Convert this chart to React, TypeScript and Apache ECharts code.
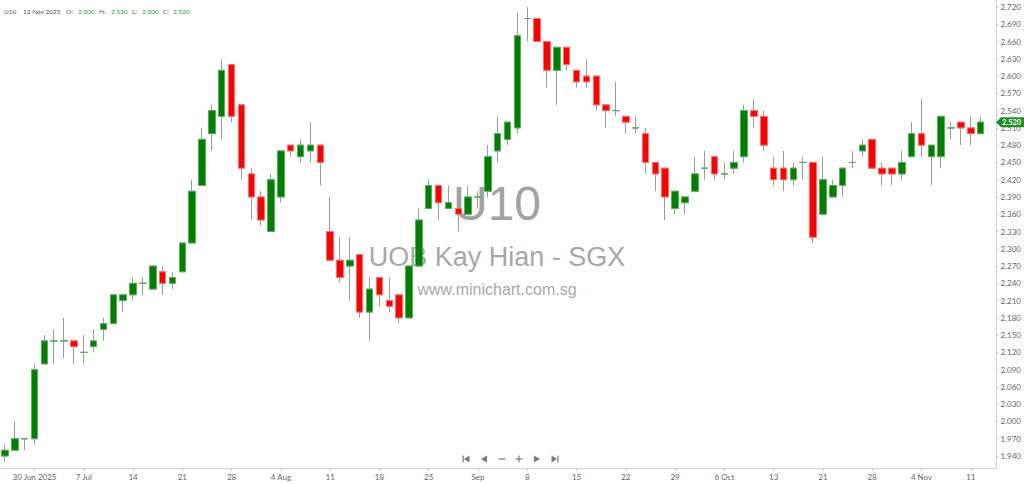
import { useEffect, useRef } from "react";
import * as echarts from "echarts";

// Watermark / header texts
const symbol = "U10";
const companyLabel = "UOB Kay Hian - SGX";
const siteLabel = "www.minichart.com.sg";
const headerDate = "12 Nov 2025";

// Trading days (SGX), 25 Jun 2025 - 12 Nov 2025
const dates = [
  "2025-06-25", "2025-06-26", "2025-06-27", "2025-06-30",
  "2025-07-01", "2025-07-02", "2025-07-03", "2025-07-04",
  "2025-07-07", "2025-07-08", "2025-07-09", "2025-07-10", "2025-07-11",
  "2025-07-14", "2025-07-15", "2025-07-16", "2025-07-17", "2025-07-18",
  "2025-07-21", "2025-07-22", "2025-07-23", "2025-07-24", "2025-07-25",
  "2025-07-28", "2025-07-29", "2025-07-30", "2025-07-31", "2025-08-01",
  "2025-08-04", "2025-08-05", "2025-08-06", "2025-08-07", "2025-08-08",
  "2025-08-11", "2025-08-12", "2025-08-13", "2025-08-14", "2025-08-15",
  "2025-08-18", "2025-08-19", "2025-08-20", "2025-08-21", "2025-08-22",
  "2025-08-25", "2025-08-26", "2025-08-27", "2025-08-28", "2025-08-29",
  "2025-09-01", "2025-09-02", "2025-09-03", "2025-09-04", "2025-09-05",
  "2025-09-08", "2025-09-09", "2025-09-10", "2025-09-11", "2025-09-12",
  "2025-09-15", "2025-09-16", "2025-09-17", "2025-09-18", "2025-09-19",
  "2025-09-22", "2025-09-23", "2025-09-24", "2025-09-25", "2025-09-26",
  "2025-09-29", "2025-09-30", "2025-10-01", "2025-10-02", "2025-10-03",
  "2025-10-06", "2025-10-07", "2025-10-08", "2025-10-09", "2025-10-10",
  "2025-10-13", "2025-10-14", "2025-10-15", "2025-10-16", "2025-10-17",
  "2025-10-21", "2025-10-22", "2025-10-23", "2025-10-24",
  "2025-10-27", "2025-10-28", "2025-10-29", "2025-10-30", "2025-10-31",
  "2025-11-03", "2025-11-04", "2025-11-05", "2025-11-06", "2025-11-07",
  "2025-11-10", "2025-11-11", "2025-11-12",
];

const opens = [
  1.94, 1.95, 1.97, 1.97, 2.10, 2.14, 2.14, 2.14, 2.12, 2.13,
  2.16, 2.17, 2.21, 2.22, 2.24, 2.23, 2.26, 2.24, 2.26, 2.31,
  2.41, 2.50, 2.53, 2.62, 2.55, 2.43, 2.39, 2.33, 2.39, 2.48,
  2.46, 2.47, 2.48, 2.33, 2.28, 2.27, 2.29, 2.19, 2.25, 2.21,
  2.22, 2.18, 2.27, 2.37, 2.41, 2.37, 2.37, 2.36, 2.39, 2.40,
  2.47, 2.49, 2.51, 2.70, 2.70, 2.66, 2.61, 2.65, 2.61, 2.60,
  2.60, 2.55, 2.54, 2.53, 2.51, 2.50, 2.45, 2.44, 2.37, 2.38,
  2.40, 2.44, 2.46, 2.43, 2.44, 2.46, 2.54, 2.53, 2.44, 2.44,
  2.42, 2.45, 2.45, 2.36, 2.39, 2.41, 2.45, 2.47, 2.49, 2.44,
  2.44, 2.43, 2.46, 2.50, 2.46, 2.46, 2.51, 2.52, 2.51, 2.50,
];

const closes = [
  1.95, 1.97, 1.97, 2.09, 2.14, 2.14, 2.14, 2.13, 2.12, 2.14,
  2.17, 2.22, 2.22, 2.24, 2.24, 2.27, 2.24, 2.25, 2.31, 2.40,
  2.49, 2.54, 2.61, 2.53, 2.44, 2.39, 2.35, 2.42, 2.47, 2.47,
  2.48, 2.48, 2.45, 2.28, 2.25, 2.28, 2.19, 2.23, 2.22, 2.20,
  2.18, 2.27, 2.35, 2.41, 2.38, 2.38, 2.36, 2.39, 2.39, 2.46,
  2.50, 2.52, 2.67, 2.70, 2.66, 2.61, 2.65, 2.62, 2.59, 2.59,
  2.55, 2.54, 2.54, 2.52, 2.51, 2.45, 2.43, 2.39, 2.40, 2.39,
  2.43, 2.44, 2.43, 2.43, 2.45, 2.54, 2.53, 2.48, 2.42, 2.42,
  2.44, 2.45, 2.32, 2.42, 2.41, 2.44, 2.45, 2.48, 2.44, 2.43,
  2.43, 2.45, 2.50, 2.48, 2.48, 2.53, 2.51, 2.51, 2.50, 2.52,
];

const lows = [
  1.93, 1.95, 1.95, 1.96, 2.10, 2.10, 2.11, 2.10, 2.10, 2.12,
  2.14, 2.17, 2.19, 2.21, 2.22, 2.23, 2.22, 2.23, 2.26, 2.31,
  2.41, 2.47, 2.49, 2.52, 2.42, 2.35, 2.34, 2.33, 2.38, 2.46,
  2.45, 2.45, 2.41, 2.28, 2.24, 2.21, 2.18, 2.14, 2.20, 2.19,
  2.17, 2.18, 2.27, 2.37, 2.35, 2.37, 2.33, 2.36, 2.37, 2.39,
  2.45, 2.48, 2.50, 2.66, 2.66, 2.58, 2.55, 2.61, 2.58, 2.58,
  2.54, 2.51, 2.53, 2.50, 2.50, 2.43, 2.40, 2.35, 2.36, 2.36,
  2.40, 2.42, 2.42, 2.42, 2.43, 2.45, 2.51, 2.47, 2.41, 2.40,
  2.41, 2.42, 2.31, 2.36, 2.39, 2.39, 2.44, 2.46, 2.44, 2.41,
  2.41, 2.42, 2.46, 2.46, 2.41, 2.44, 2.49, 2.48, 2.48, 2.50,
];

const highs = [
  1.96, 2.00, 1.97, 2.10, 2.15, 2.16, 2.18, 2.14, 2.15, 2.16,
  2.18, 2.22, 2.22, 2.25, 2.25, 2.27, 2.27, 2.26, 2.31, 2.42,
  2.51, 2.55, 2.63, 2.62, 2.55, 2.44, 2.40, 2.43, 2.47, 2.48,
  2.49, 2.52, 2.48, 2.39, 2.32, 2.32, 2.29, 2.25, 2.25, 2.25,
  2.22, 2.27, 2.37, 2.42, 2.41, 2.41, 2.39, 2.41, 2.40, 2.48,
  2.53, 2.52, 2.71, 2.72, 2.70, 2.66, 2.65, 2.65, 2.61, 2.63,
  2.60, 2.55, 2.59, 2.53, 2.53, 2.51, 2.45, 2.44, 2.40, 2.39,
  2.46, 2.47, 2.46, 2.45, 2.47, 2.55, 2.56, 2.54, 2.46, 2.47,
  2.45, 2.46, 2.45, 2.46, 2.42, 2.44, 2.47, 2.49, 2.49, 2.45,
  2.44, 2.47, 2.52, 2.56, 2.48, 2.53, 2.52, 2.52, 2.53, 2.53,
];

// x-axis tick labels (one per trading week)
const tickDates = [
  "2025-06-30", "2025-07-07", "2025-07-14", "2025-07-21", "2025-07-28",
  "2025-08-04", "2025-08-11", "2025-08-18", "2025-08-25", "2025-09-01",
  "2025-09-08", "2025-09-15", "2025-09-22", "2025-09-29", "2025-10-06",
  "2025-10-13", "2025-10-21", "2025-10-28", "2025-11-04", "2025-11-11",
];
const tickLabels = [
  "30 Jun 2025", "7 Jul", "14", "21", "28",
  "4 Aug", "11", "18", "25", "Sep",
  "8", "15", "22", "29", "6 Oct",
  "13", "21", "28", "4 Nov", "11",
];

// y-axis range and step
const yMin = 1.94;
const yMax = 2.72;
const yStep = 0.03;

const UP = "#008000";
const DOWN = "#ff0000";
const WICK = "#9c9c9c";
const AXIS = "#d0d0d0";
const LABEL = "#666666";
const VALUE = "#2a9a2a";

function txt(id: string, text: string, x: number, y: number, fill: string, size: number, family = "Lato", align = "left", z = 10, weight = "normal") {
  return {
    id,
    type: "text",
    x,
    y,
    z,
    silent: true,
    style: {
      text,
      fill,
      fontSize: size,
      fontFamily: family,
      fontWeight: weight,
      align,
      verticalAlign: "middle",
      textAlign: align,
      textVerticalAlign: "middle",
    },
  };
}

export default function App() {
  const chartRef = useRef<HTMLDivElement>(null);

  useEffect(() => {
    if (!chartRef.current) return;
    const chart = echarts.init(chartRef.current, null, { renderer: "svg" });

    const candles = dates.map((_, i) => [opens[i], closes[i], lows[i], highs[i]]);
    // bodies only (no wicks), drawn on top so the wicks stay grey
    const bodies = dates.map((_, i) => [
      opens[i],
      closes[i],
      Math.min(opens[i], closes[i]),
      Math.max(opens[i], closes[i]),
    ]);

    const last = dates.length - 1;
    const fmt = (v: number) => v.toFixed(3);

    const navColor = "#7a7a7a";
    const ny = 459;
    const hs = 6.5;

    const graphics: any[] = [
      // watermark
      txt("wm1", symbol, 497, 203, "#a2a2a2", 48, "Liberation Sans", "center", 0),
      txt("wm2", companyLabel, 497, 257, "#a8a8a8", 27, "Liberation Sans", "center", 0),
      txt("wm3", siteLabel, 497, 289, "#a8a8a8", 16, "Liberation Sans", "center", 0),
      // header
      txt("h1", symbol, 4, 11, "#555", hs),
      txt("h2", headerDate, 23, 11, "#555", hs),
      txt("h3", "O:", 66, 11, "#555", hs),
      txt("h4", fmt(opens[last]), 78, 11, VALUE, hs),
      txt("h5", "H:", 99, 11, "#555", hs),
      txt("h6", fmt(highs[last]), 111, 11, VALUE, hs),
      txt("h7", "L:", 132, 11, "#555", hs),
      txt("h8", fmt(lows[last]), 142, 11, VALUE, hs),
      txt("h9", "C:", 163, 11, "#555", hs),
      txt("h10", fmt(closes[last]), 173, 11, VALUE, hs),
      // frame
      { id: "fx", type: "line", z: 5, silent: true, shape: { x1: 0, y1: 468.5, x2: 996.5, y2: 468.5 }, style: { stroke: AXIS, lineWidth: 1 } },
      { id: "fy", type: "line", z: 5, silent: true, shape: { x1: 996.5, y1: 0, x2: 996.5, y2: 468.5 }, style: { stroke: AXIS, lineWidth: 1 } },
      // navigation buttons
      { id: "n1a", type: "rect", z: 5, silent: true, shape: { x: 462.5, y: ny - 3.5, width: 1.2, height: 7 }, style: { fill: navColor } },
      { id: "n1b", type: "polygon", z: 5, silent: true, shape: { points: [[464, ny], [469.5, ny - 3.5], [469.5, ny + 3.5]] }, style: { fill: navColor } },
      { id: "n2", type: "polygon", z: 5, silent: true, shape: { points: [[481, ny], [487, ny - 3.5], [487, ny + 3.5]] }, style: { fill: navColor } },
      { id: "n3", type: "rect", z: 5, silent: true, shape: { x: 498.5, y: ny - 0.6, width: 7, height: 1.2 }, style: { fill: navColor } },
      { id: "n4a", type: "rect", z: 5, silent: true, shape: { x: 515.5, y: ny - 0.6, width: 7, height: 1.2 }, style: { fill: navColor } },
      { id: "n4b", type: "rect", z: 5, silent: true, shape: { x: 518.4, y: ny - 3.5, width: 1.2, height: 7 }, style: { fill: navColor } },
      { id: "n5", type: "polygon", z: 5, silent: true, shape: { points: [[534, ny - 3.5], [534, ny + 3.5], [540, ny]] }, style: { fill: navColor } },
      { id: "n6a", type: "polygon", z: 5, silent: true, shape: { points: [[551.5, ny - 3.5], [551.5, ny + 3.5], [557, ny]] }, style: { fill: navColor } },
      { id: "n6b", type: "rect", z: 5, silent: true, shape: { x: 557.3, y: ny - 3.5, width: 1.2, height: 7 }, style: { fill: navColor } },
    ];

    const option = {
      animation: false,
      backgroundColor: "#ffffff",
      grid: { left: 0, right: 38, top: 7, bottom: 28, containLabel: false },
      xAxis: {
        type: "category",
        data: dates,
        boundaryGap: true,
        offset: 12,
        axisLine: { show: false },
        axisTick: {
          show: true,
          alignWithLabel: true,
          interval: (_i: number, v: string) => tickDates.includes(v),
          length: 3,
          lineStyle: { color: AXIS },
        },
        axisLabel: {
          interval: (_i: number, v: string) => tickDates.includes(v),
          formatter: (v: string) => {
            const k = tickDates.indexOf(v);
            return k >= 0 ? tickLabels[k] : "";
          },
          fontSize: 8,
          fontFamily: "Lato",
          color: LABEL,
          margin: 5,
        },
        splitLine: { show: false },
      },
      yAxis: {
        type: "value",
        position: "right",
        offset: 10,
        min: yMin,
        max: yMax,
        interval: yStep,
        axisLine: { show: false },
        axisTick: { show: true, length: 3, lineStyle: { color: AXIS } },
        axisLabel: {
          formatter: (v: number) => v.toFixed(3),
          fontSize: 8,
          fontFamily: "Lato",
          color: LABEL,
          margin: 5,
        },
        splitLine: { show: false },
      },
      series: [
        {
          name: "wick",
          type: "candlestick",
          data: candles,
          barWidth: 7,
          clip: false,
          z: 2,
          silent: true,
          itemStyle: {
            color: WICK,
            color0: WICK,
            borderColor: WICK,
            borderColor0: WICK,
            borderColorDoji: WICK,
            borderWidth: 1,
          },
        },
        {
          name: symbol,
          type: "candlestick",
          data: bodies,
          barWidth: 7,
          clip: false,
          z: 3,
          silent: true,
          itemStyle: {
            color: UP,
            color0: DOWN,
            borderColor: "#5fae5f",
            borderColor0: "#ff7070",
            borderColorDoji: "#5fae5f",
            borderWidth: 1,
          },
        },
      ],
      graphic: { elements: graphics },
    };

    chart.setOption(option);

    // last-price tag on the price axis
    const tagY = chart.convertToPixel({ yAxisIndex: 0 }, closes[last]) as number;
    chart.setOption({
      graphic: {
        elements: [
          {
            id: "tag",
            type: "polygon",
            z: 20,
            silent: true,
            shape: {
              points: [
                [996, tagY],
                [1001, tagY - 5],
                [1024, tagY - 5],
                [1024, tagY + 5],
                [1001, tagY + 5],
              ],
            },
            style: { fill: "#218c21" },
          },
          txt("tagtxt", fmt(closes[last]), 1002, tagY + 0.5, "#ffffff", 7.5, "Lato", "left", 21, "bold"),
        ],
      },
    });

    return () => {
      chart.dispose();
    };
  }, []);

  return (
    <div
      ref={chartRef}
      style={{ position: "absolute", left: 0, top: 0, width: 1024, height: 484, background: "#fff" }}
    />
  );
}
